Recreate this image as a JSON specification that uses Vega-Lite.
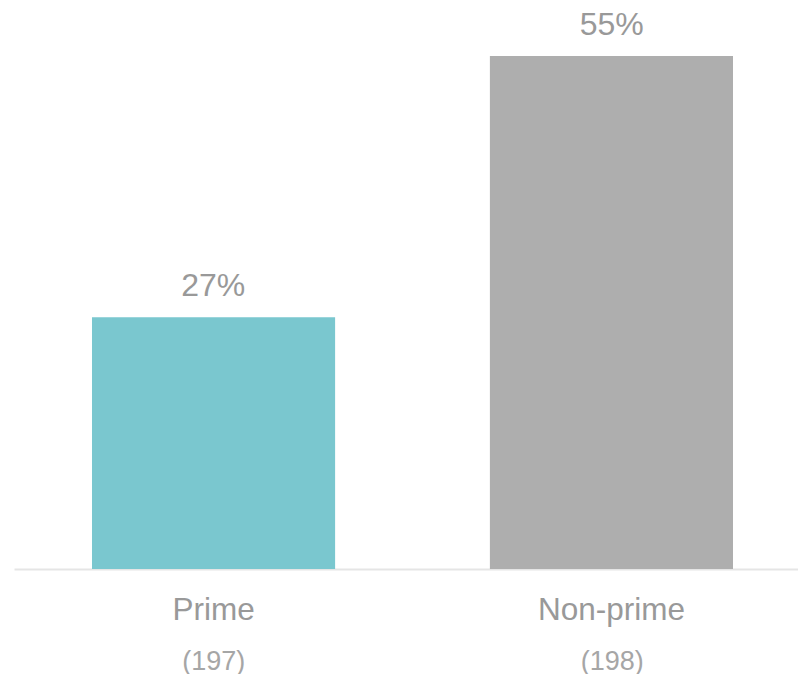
{
  "$schema": "https://vega.github.io/schema/vega-lite/v6.json",
  "autosize": "none",
  "width": 797,
  "height": 569,
  "padding": {"left": 14, "top": 0, "right": 0, "bottom": 105},
  "background": "white",
  "config": {"view": {"stroke": null}, "font": "Liberation Sans"},
  "data": {"values": [
    {"group": "Prime", "n": "(197)", "pct": 27, "label": "27%"},
    {"group": "Non-prime", "n": "(198)", "pct": 55, "label": "55%"}
  ]},
  "layer": [
    {
      "mark": {"type": "bar"},
      "encoding": {
        "x": {"field": "group", "type": "nominal", "sort": null,
          "scale": {"paddingInner": 0.389, "paddingOuter": 0.196},
          "axis": {"title": null, "orient": "bottom", "ticks": false, "tickSize": 0, "domainColor": "#e5e5e5", "domainWidth": 2,
            "labelFontSize": 31.5, "labelColor": "#999999", "labelBaseline": "alphabetic", "labelPadding": 50, "labelAngle": 0, "labelFont": "Liberation Sans"}},
        "y": {"field": "pct", "type": "quantitative", "scale": {"domain": [0, 61]}, "axis": null},
        "color": {"field": "group", "type": "nominal", "scale": {"domain": ["Prime", "Non-prime"], "range": ["#7AC7CF", "#AEAEAE"]}, "legend": null}
      }
    },
    {
      "mark": {"type": "text", "fontSize": 32, "color": "#999999", "baseline": "alphabetic", "dy": -21, "font": "Liberation Sans"},
      "encoding": {
        "x": {"field": "n", "type": "nominal", "sort": null,
          "scale": {"paddingInner": 0.389, "paddingOuter": 0.196},
          "axis": {"title": null, "orient": "bottom", "domain": false, "ticks": false, "tickSize": 0,
            "labelFontSize": 27, "labelColor": "#a6a6a6", "labelBaseline": "alphabetic", "labelPadding": 100, "labelAngle": 0, "labelFont": "Liberation Sans"}},
        "y": {"field": "pct", "type": "quantitative", "scale": {"domain": [0, 61]}, "axis": null},
        "text": {"field": "label"}
      }
    }
  ],
  "resolve": {"scale": {"x": "independent"}, "axis": {"x": "independent"}}
}
